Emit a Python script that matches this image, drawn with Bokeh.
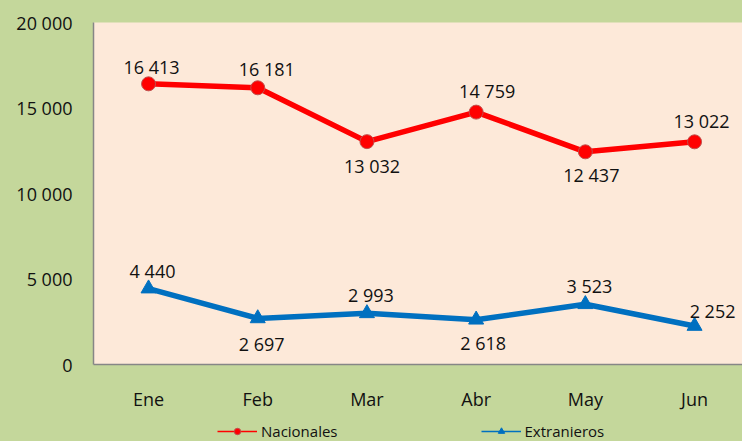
from bokeh.plotting import figure
from bokeh.layouts import column
from bokeh.models import ColumnDataSource, FixedTicker, Legend, LegendItem, Range1d
from bokeh.core.properties import value
from bokeh.embed import file_html
from bokeh.resources import INLINE

# ---- data ----
months = ["Ene", "Feb", "Mar", "Abr", "May", "Jun"]
nacionales = [16413, 16181, 13032, 14759, 12437, 13022]
extranjeros = [4440, 2697, 2993, 2618, 3523, 2252]
nac_labels = ["16 413", "16 181", "13 032", "14 759", "12 437", "13 022"]
ext_labels = ["4 440", "2 697", "2 993", "2 618", "3 523", "2 252"]
y_ticks = [0, 5000, 10000, 15000, 20000]
y_tick_labels = ["0", "5 000", "10 000", "15 000", "20 000"]
series_names = ["Nacionales", "Extranieros"]

# ---- label placement (screen px, style only; positive dy = down) ----
nac_dx = [3, 9, 5, 11, 6, 7]
nac_dy = [-17, -19, 24, -21, 23, -21]
ext_dx = [4, 4, 4, 7, 4, 18]
ext_dy = [-18, 26, -18, 23, -18, -15]

FONT = "Open Sans"
RED = "#FF0000"
BLUE = "#0070C0"
GREEN = "#C4D79B"
PINK = "#FDE9D9"
TXT = "#111111"

xs = list(range(len(months)))

p = figure(width=742, height=413, output_backend="svg", toolbar_location=None,
           x_range=Range1d(-0.504, 5.439), y_range=Range1d(0, 20000),
           min_border_left=93, min_border_right=0, min_border_top=22,
           min_border_bottom=49)
p.background_fill_color = PINK
p.border_fill_color = GREEN
p.outline_line_color = None
p.xgrid.visible = False
p.ygrid.visible = False

for ax in (p.xaxis[0], p.yaxis[0]):
    ax.axis_line_color = "#868686"
    ax.axis_line_width = 1.5
    ax.major_tick_line_color = None
    ax.minor_tick_line_color = None
    ax.major_tick_out = 0
    ax.major_tick_in = 0
    ax.major_label_text_font = FONT
    ax.major_label_text_font_size = "18px"
    ax.major_label_text_color = TXT

p.xaxis.ticker = FixedTicker(ticks=xs)
p.xaxis.major_label_overrides = {i: m for i, m in zip(xs, months)}
p.xaxis.major_label_standoff = 22
p.yaxis.ticker = FixedTicker(ticks=y_ticks)
p.yaxis.major_label_overrides = {t: l for t, l in zip(y_ticks, y_tick_labels)}
p.yaxis.major_label_standoff = 21

src_n = ColumnDataSource(dict(x=xs, y=nacionales, label=nac_labels, dx=nac_dx, dy=nac_dy))
src_e = ColumnDataSource(dict(x=xs, y=extranjeros, label=ext_labels, dx=ext_dx, dy=ext_dy))

p.line("x", "y", source=src_n, line_color=RED, line_width=5.5)
p.scatter("x", "y", source=src_n, marker="circle", size=14,
          fill_color=RED, line_color="#C0504D", line_width=1)
p.line("x", "y", source=src_e, line_color=BLUE, line_width=5.5)
p.scatter("x", "y", source=src_e, marker="triangle", size=15,
          fill_color=BLUE, line_color=BLUE, line_width=1)

for src in (src_n, src_e):
    p.text("x", "y", text="label", source=src, x_offset="dx", y_offset="dy",
           text_align="center", text_baseline="middle",
           text_font=value(FONT), text_font_size="18px", text_color=TXT)

# ---- legend strip (separate figure below, same series as legend proxies) ----
q = figure(width=742, height=28, output_backend="svg", toolbar_location=None,
           x_axis_location=None, y_axis_location=None,
           x_range=Range1d(0, 649), y_range=Range1d(-1e6, -9e5),
           min_border_left=93, min_border_right=0, min_border_top=0,
           min_border_bottom=0, styles={"background-color": GREEN})
q.background_fill_color = None
q.border_fill_color = None
q.outline_line_color = None
q.grid.visible = False

ln_n = q.line("x", "y", source=src_n, line_color=RED, line_width=1.5)
mk_n = q.scatter("x", "y", source=src_n, marker="circle", size=8,
                 fill_color=RED, line_color="#C0504D")
ln_e = q.line("x", "y", source=src_e, line_color=BLUE, line_width=1.5)
mk_e = q.scatter("x", "y", source=src_e, marker="triangle", size=10,
                 fill_color=BLUE, line_color=BLUE)

legend = Legend(items=[LegendItem(label=series_names[0], renderers=[ln_n, mk_n]),
                       LegendItem(label=series_names[1], renderers=[ln_e, mk_e])],
                orientation="horizontal", location=(124, 0),
                glyph_width=40, glyph_height=16, label_height=16,
                label_standoff=4, spacing=143,
                padding=0, margin=0, border_line_color=None,
                background_fill_alpha=0,
                label_text_font=FONT, label_text_font_size="15px",
                label_text_color=TXT)
q.add_layout(legend, "center")

layout = column(p, q, spacing=0, styles={"background-color": GREEN})
open("out.html", "w").write(file_html(layout, INLINE))
